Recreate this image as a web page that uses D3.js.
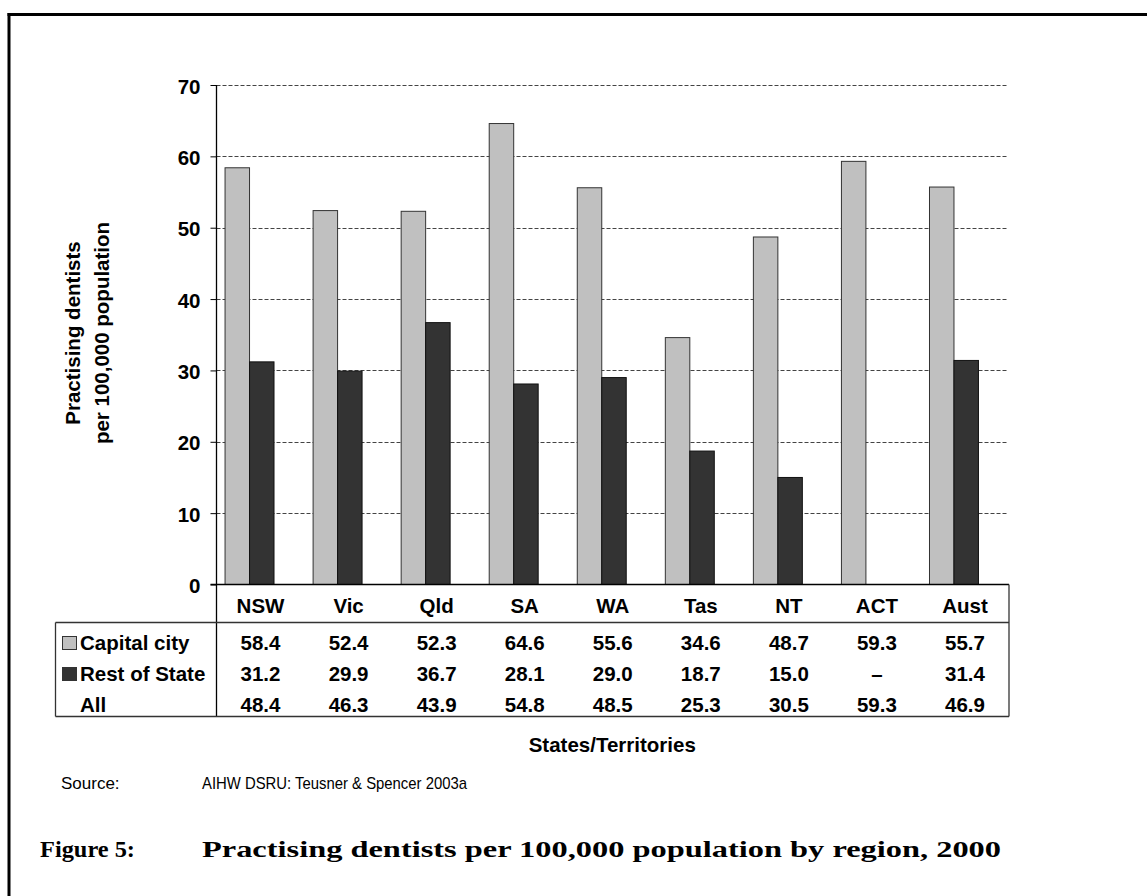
<!DOCTYPE html>
<html>
<head>
<meta charset="utf-8">
<script src="https://cdn.jsdelivr.net/npm/d3@7"></script>
<style>
  html, body { margin: 0; padding: 0; background: #fff; }
  svg { display: block; }
</style>
</head>
<body>
<script>
// ---- Data ----
const categories = ["NSW", "Vic", "Qld", "SA", "WA", "Tas", "NT", "ACT", "Aust"];
const seriesNames = ["Capital city", "Rest of State"];
const capitalCity = [58.4, 52.4, 52.3, 64.6, 55.6, 34.6, 48.7, 59.3, 55.7];
const restOfState = [31.2, 29.9, 36.7, 28.1, 29.0, 18.7, 15.0, null, 31.4];
const allRegions  = [48.4, 46.3, 43.9, 54.8, 48.5, 25.3, 30.5, 59.3, 46.9];
const rowLabels = ["Capital city", "Rest of State", "All"];
const yTicks = [0, 10, 20, 30, 40, 50, 60, 70];
const yTitle = ["Practising dentists", "per 100,000 population"];
const xTitle = "States/Territories";
const sourceLabel = "Source:";
const sourceText = "AIHW DSRU: Teusner & Spencer 2003a";
const figLabel = "Figure 5:";
const figTitle = "Practising dentists per 100,000 population by region, 2000";

// ---- Layout ----
const W = 1147, H = 896;
const plotLeft = 216.5, plotRight = 1009, plotTop = 85, plotBottom = 584.5;
const tableLeft = 55.5, tableHeadBottom = 622.5, tableBottom = 716.5;
const barShift = 11;
const sans = "'Liberation Sans', Arial, Helvetica, sans-serif";
const fs = 20.5;

const svg = d3.select("body").append("svg").attr("width", W).attr("height", H);

// frame
svg.append("line").attr("x1", 7.5).attr("x2", W).attr("y1", 14.5).attr("y2", 14.5)
  .attr("stroke", "#000").attr("stroke-width", 3);
svg.append("line").attr("x1", 9).attr("x2", 9).attr("y1", 13).attr("y2", H)
  .attr("stroke", "#000").attr("stroke-width", 3);

const y = d3.scaleLinear().domain([0, 70]).range([plotBottom, plotTop]);
const col = d3.scaleBand().domain(categories).range([plotLeft, plotRight]);
const barBand = d3.scaleBand().domain(categories)
  .range([plotLeft - barShift, plotRight - barShift])
  .paddingInner(0.444).paddingOuter(0.222);
const sub = d3.scaleBand().domain(seriesNames).range([0, barBand.bandwidth()]);
const colors = { "Capital city": "#c0c0c0", "Rest of State": "#333333" };
const strokes = { "Capital city": "#333", "Rest of State": "#111" };

// gridlines
svg.append("g").selectAll("line").data(yTicks.filter(d => d > 0)).join("line")
  .attr("x1", plotLeft).attr("x2", plotRight - 1)
  .attr("y1", d => Math.round(y(d)) + 0.5).attr("y2", d => Math.round(y(d)) + 0.5)
  .attr("stroke", "#444").attr("stroke-width", 1).attr("stroke-dasharray", "4,2");

// y axis
const yAxis = d3.axisLeft(y).tickValues(yTicks).tickSize(6).tickSizeOuter(0).tickPadding(10);
const gy = svg.append("g").attr("transform", `translate(${plotLeft},0)`).call(yAxis);
gy.select(".domain").remove();
gy.selectAll(".tick line").attr("stroke", "#000");
gy.selectAll(".tick text").attr("font-family", sans).attr("font-size", fs)
  .attr("font-weight", "bold").attr("fill", "#000").attr("dy", "0.4em");

// bars
const barData = [];
categories.forEach((c, i) => {
  barData.push({ cat: c, series: "Capital city", value: capitalCity[i] });
  barData.push({ cat: c, series: "Rest of State", value: restOfState[i] });
});
svg.append("g").selectAll("rect").data(barData.filter(d => d.value != null)).join("rect")
  .attr("x", d => barBand(d.cat) + sub(d.series))
  .attr("width", sub.bandwidth())
  .attr("y", d => y(d.value))
  .attr("height", d => y(0) - y(d.value))
  .attr("fill", d => colors[d.series])
  .attr("stroke", d => strokes[d.series])
  .attr("stroke-width", 1);

// table lines
const tl = svg.append("g").attr("stroke", "#333").attr("stroke-width", 1.3).attr("fill", "none");
tl.append("line").attr("x1", plotLeft - 6).attr("x2", plotRight).attr("y1", plotBottom).attr("y2", plotBottom).attr("stroke", "#000");
tl.append("line").attr("x1", plotLeft).attr("x2", plotLeft).attr("y1", plotTop).attr("y2", tableBottom).attr("stroke", "#000");
tl.append("line").attr("x1", plotRight).attr("x2", plotRight).attr("y1", plotBottom).attr("y2", tableBottom);
tl.append("line").attr("x1", tableLeft).attr("x2", plotRight).attr("y1", tableHeadBottom).attr("y2", tableHeadBottom);
tl.append("line").attr("x1", tableLeft).attr("x2", plotRight).attr("y1", tableBottom).attr("y2", tableBottom);
tl.append("line").attr("x1", tableLeft).attr("x2", tableLeft).attr("y1", tableHeadBottom).attr("y2", tableBottom);

// category labels
svg.append("g").selectAll("text").data(categories).join("text")
  .attr("x", d => col(d) + col.bandwidth() / 2).attr("y", 612.5)
  .attr("text-anchor", "middle").attr("font-family", sans).attr("font-size", fs)
  .attr("font-weight", "bold").text(d => d);

// rows
const rowBand = d3.scaleBand().domain(rowLabels).range([627, 720]);
const rowValues = [capitalCity, restOfState, allRegions];
const fmt = v => v == null ? "–" : d3.format(".1f")(v);
rowLabels.forEach((r, ri) => {
  const by = rowBand(r) + rowBand.bandwidth() / 2 + 7;
  const g = svg.append("g");
  if (colors[r]) {
    g.append("rect").attr("x", 62.5).attr("y", by - 13).attr("width", 14).attr("height", 13)
      .attr("fill", colors[r]).attr("stroke", "#333").attr("stroke-width", 1);
  }
  g.append("text").attr("x", 80).attr("y", by).attr("font-family", sans)
    .attr("font-size", fs).attr("font-weight", "bold").text(r);
  g.selectAll("text.v").data(rowValues[ri]).join("text").attr("class", "v")
    .attr("x", (d, i) => col(categories[i]) + col.bandwidth() / 2).attr("y", by)
    .attr("text-anchor", "middle").attr("font-family", sans).attr("font-size", fs)
    .attr("font-weight", "bold").text(d => fmt(d));
});

// axis titles
const yt = svg.append("text").attr("transform", "translate(80,333) rotate(-90)")
  .attr("text-anchor", "middle").attr("font-family", sans).attr("font-size", fs).attr("font-weight", "bold");
yt.selectAll("tspan").data(yTitle).join("tspan").attr("x", 0).attr("y", (d, i) => i * 29).text(d => d);

svg.append("text").attr("x", (plotLeft + plotRight) / 2 - 0.5).attr("y", 752)
  .attr("text-anchor", "middle").attr("font-family", sans).attr("font-size", fs)
  .attr("font-weight", "bold").text(xTitle);

// source
const narrow = "'Liberation Sans Narrow', 'Arial Narrow', 'Liberation Sans', Arial, sans-serif";
svg.append("text").attr("x", 61).attr("y", 789).attr("font-family", narrow).attr("font-size", 17)
  .text(sourceLabel);
svg.append("text").attr("x", 202).attr("y", 789).attr("font-family", narrow).attr("font-size", 17)
  .attr("textLength", 265).attr("lengthAdjust", "spacingAndGlyphs").text(sourceText);

// caption
const serif = "'Liberation Serif', 'Times New Roman', serif";
svg.append("text").attr("x", 40).attr("y", 857).attr("font-family", serif).attr("font-size", 23)
  .attr("font-weight", "bold").attr("textLength", 95).attr("lengthAdjust", "spacingAndGlyphs").text(figLabel);
svg.append("text").attr("x", 202).attr("y", 857).attr("font-family", serif).attr("font-size", 23)
  .attr("font-weight", "bold").attr("textLength", 799).attr("lengthAdjust", "spacingAndGlyphs").text(figTitle);
</script>
</body>
</html>
